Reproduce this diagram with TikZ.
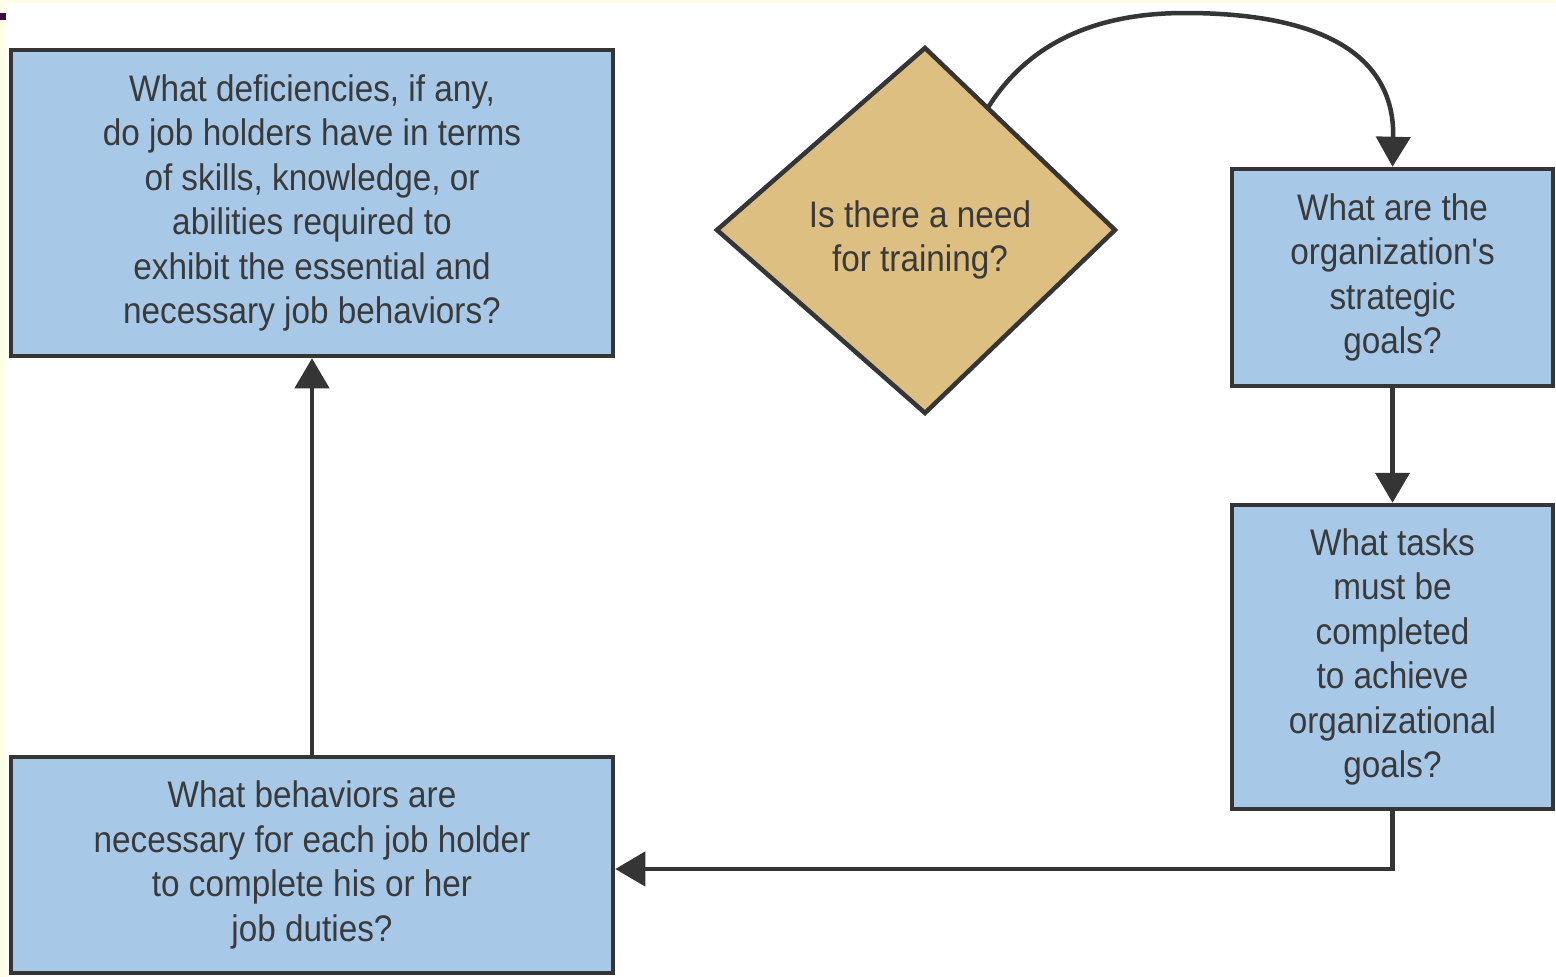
\documentclass[tikz,border=0pt]{standalone}
\usepackage{fontspec}
\setmainfont{Liberation Sans}[FakeStretch=0.9, Ligatures=TeXOff]
\usetikzlibrary{arrows.meta,calc}
\definecolor{boxblue}{HTML}{A7C9E7}
\definecolor{dtan}{HTML}{DDBF82}
\definecolor{edgec}{HTML}{353535}
\definecolor{txtc}{HTML}{3A3A3A}
\definecolor{framec}{HTML}{FFFFE6}
\definecolor{markc}{HTML}{3C0A3C}
\begin{document}
\begin{tikzpicture}[x=1pt,y=-1pt,
 qbox/.style={draw=edgec, line width=4.5pt, fill=boxblue, rectangle, inner sep=0pt, align=center, text=txtc, font=\fontsize{37}{44.5}\selectfont},
 qdia/.style={draw=edgec, line width=4.5pt, fill=dtan, line join=miter},
 qtext/.style={align=center, text=txtc, font=\fontsize{37}{44.5}\selectfont, inner sep=0pt},
 flow/.style={draw=edgec, line width=4.5pt, -{Triangle[length=30pt,width=34pt]}},
]
\fill[framec] (0,0) rectangle (1556,977);
\fill[white] (6,3) rectangle (1556,977);
\fill[markc] (0,13) rectangle (6,20);
\useasboundingbox (0,0) rectangle (1556,977);

\node[qbox, minimum width=602pt, minimum height=306pt] (b1) at (312,203)
 {What deficiencies, if any,\\do job holders have in terms\\of skills, knowledge, or\\abilities required to\\exhibit the essential and\\necessary job behaviors?};
\node[qbox, minimum width=602pt, minimum height=216pt] (b2) at (312,865)
 {What behaviors are\\necessary for each job holder\\to complete his or her\\job duties?};
\node[qbox, minimum width=321pt, minimum height=217pt] (b3) at (1392.5,277.5)
 {What are the\\organization's\\strategic\\goals?};
\node[qbox, minimum width=321pt, minimum height=304pt] (b4) at (1392.5,657)
 {What tasks\\must be\\completed\\to achieve\\organizational\\goals?};

% decision diamond
\coordinate (dtop) at (925,48);
\coordinate (dright) at (1115,230);
\coordinate (dbottom) at (925,413);
\coordinate (dleft) at (717,230);
\path[qdia] (dtop) -- (dright) -- (dbottom) -- (dleft) -- cycle;
\node[qtext] (dtext) at (920,240) {Is there a need\\for training?};

\coordinate (cs) at ($(dtop)!0.33!(dright)$);
\draw[flow] (cs) .. controls (1030,40) and (1100,13) .. (1185,13)
 .. controls (1330,13) and (1395,60) .. (b3.north);
\draw[flow] (b3.south) -- (b4.north);
\draw[flow] (b4.south) |- ($(b2.east)+(0,4)$);
\draw[flow] (b2.north) -- (b1.south);
\end{tikzpicture}
\end{document}
